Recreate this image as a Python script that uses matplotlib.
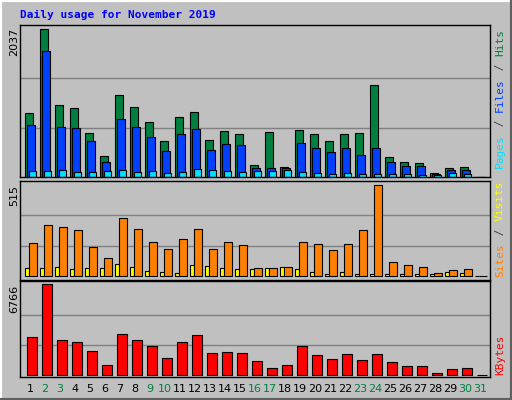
import matplotlib
matplotlib.use("Agg")
import matplotlib.pyplot as plt
import numpy as np

days = np.arange(1, 32)
hits = [876, 2037, 986, 945, 599, 281, 1134, 968, 756, 488, 829, 898, 502, 626, 585, 157, 613, 129, 645, 585, 488, 585, 599, 1262, 267, 198, 184, 46, 115, 129, 0]
files = [710, 1742, 682, 668, 488, 198, 802, 682, 544, 350, 585, 654, 364, 447, 433, 115, 115, 115, 461, 392, 336, 392, 295, 392, 198, 143, 143, 32, 88, 88, 0]
pages = [74, 74, 88, 60, 60, 74, 88, 60, 74, 46, 60, 101, 88, 74, 60, 74, 74, 88, 60, 46, 32, 46, 32, 32, 32, 32, 18, 18, 46, 32, 0]
visits = [185, 286, 275, 258, 162, 101, 329, 268, 190, 151, 207, 263, 151, 190, 174, 45, 45, 50, 190, 179, 145, 179, 258, 515, 78, 62, 50, 17, 34, 39, 0]
sites = [45, 45, 50, 39, 45, 45, 67, 50, 28, 22, 17, 62, 56, 45, 39, 39, 45, 50, 39, 22, 11, 22, 11, 11, 11, 11, 11, 11, 22, 17, 0]
kbytes = [2825, 6766, 2602, 2453, 1784, 743, 3048, 2602, 2156, 1264, 2453, 2974, 1635, 1710, 1635, 1041, 520, 743, 2156, 1487, 1189, 1561, 1115, 1561, 966, 669, 669, 149, 446, 520, 0]
weekend = [2, 3, 9, 10, 16, 17, 23, 24, 30, 31]

BG = "#C0C0C0"
W, H = 512, 400
fig = plt.figure(figsize=(W / 100, H / 100), dpi=100, facecolor=BG)

def px_axes(x0, y0, x1, y1):
    ax = fig.add_axes([x0 / W, 1 - y1 / H, (x1 - x0) / W, (y1 - y0) / H])
    ax.set_facecolor(BG)
    ax.set_xticks([]); ax.set_yticks([])
    for s in ax.spines.values():
        s.set_color("black"); s.set_linewidth(1)
    ax.set_xlim(0.667, 0.667 + (x1 - x0) / 15)
    return ax

u = 1 / 15
ek = dict(edgecolor="black", linewidth=0.8, align="edge")

ax1 = px_axes(20, 25, 490, 177)
ax1.set_ylim(-4, 2096)
for g in (679, 1358):
    ax1.axhline(g, color="#808080", lw=1, zorder=0)
ax1.bar(days, hits, 8 * u, color="#008040", **ek)
ax1.bar(days + 2.3 * u, files, 7.7 * u, color="#0040FF", **ek)
ax1.bar(days + 4.3 * u, pages, 7 * u, color="#00E0FF", **ek)

ax2 = px_axes(20, 181, 490, 280)
ax2.set_ylim(-21, 535)
for g in (172, 343):
    ax2.axhline(g, color="#808080", lw=1, zorder=0)
ax2.bar(days, sites, 4.3 * u, color="#FFFF00", **ek)
ax2.bar(days + 4.3 * u, visits, 7.3 * u, color="#FF8000", **ek)

ax3 = px_axes(20, 281, 490, 377)
ax3.set_ylim(-126, 7012)
for g in (2255, 4511):
    ax3.axhline(g, color="#808080", lw=1, zorder=0)
ax3.bar(days + 1.7 * u, kbytes, 10 * u, color="#FF0000", **ek)

mono = "DejaVu Sans Mono"
fig.text(20 / W, 1 - 15 / H, "Daily usage for November 2019", color="#0000FF",
         fontsize=8, fontweight="bold", family=mono, va="center")
for ytop, lab in ((28, "2037"), (185, "515"), (285, "6766")):
    fig.text(14 / W, 1 - ytop / H, lab, rotation=90, fontsize=8, ha="center", va="top")

def vstack(ybot, parts):
    y = ybot
    for txt, col in parts:
        t = fig.text(500 / W, 1 - y / H, txt, rotation=90, color=col, fontsize=8,
                     family=mono, ha="center", va="bottom")
        y -= len(txt) * 7

vstack(168, [("Pages", "#00E0FF"), (" / ", "#404040"), ("Files", "#0040FF"),
             (" / ", "#404040"), ("Hits", "#008040")])
vstack(277, [("Sites", "#FF8000"), (" / ", "#404040"), ("Visits", "#FFFF00")])
vstack(375, [("KBytes", "#FF0000")])

for d in days:
    x = (25 + 15 * (d - 1) + 5) / W
    fig.text(x, 1 - 389 / H, str(d), ha="center", va="center", fontsize=8,
             color="#008040" if d in weekend else "black")

# bevelled frame
fig.add_artist(plt.Line2D([0, 0, 1], [0, 1, 1], transform=fig.transFigure, color="white", lw=3))
fig.add_artist(plt.Line2D([0, 1, 1], [0, 0, 1], transform=fig.transFigure, color="#606060", lw=3))

fig.savefig("out.png", dpi=100, facecolor=BG)
